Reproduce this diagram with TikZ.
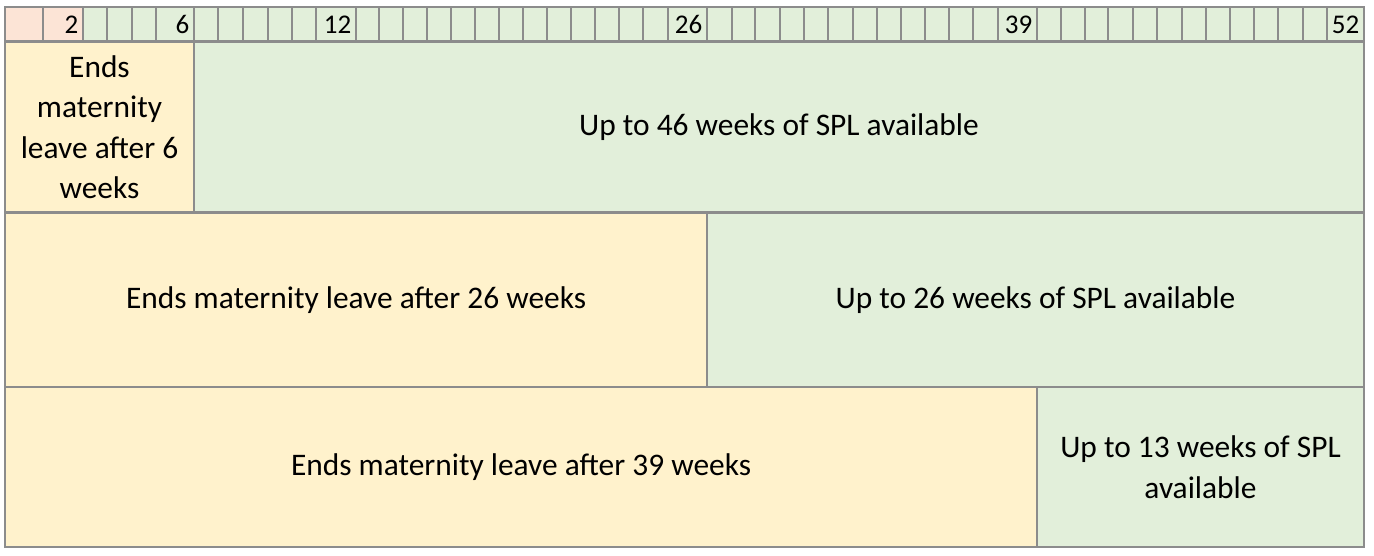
\documentclass[tikz,border=0pt]{standalone}
\usepackage{fontspec}
\setmainfont{Carlito}
\definecolor{gridc}{HTML}{8C8C8C}
\definecolor{pinkc}{HTML}{FCE4D6}
\definecolor{greenc}{HTML}{E2EFDA}
\definecolor{yellowc}{HTML}{FFF2CC}
\tikzset{
  wk/.style={draw=gridc, line width=2.2pt, fill=greenc},
  wkp/.style={wk, fill=pinkc},
  wknum/.style={anchor=east, inner sep=0pt, font=\fontsize{27}{30}\selectfont},
  bigcell/.style={draw=gridc, line width=2.2pt, inner sep=0pt, align=center,
    font=\fontsize{31.4}{40.5}\selectfont},
  mat/.style={bigcell, fill=yellowc},
  spl/.style={bigcell, fill=greenc}
}
\begin{document}
\begin{tikzpicture}[x=1pt,y=-1pt]
\useasboundingbox (0,0) rectangle (1374,555);
% week boundaries
\def\bounds{5,43,83,107,132,156,194,218,243,268,292,316,356,379,403,427,451,475,499,523,547,571,595,619,643,668,707,732,755,780,804,828,853,877,901,925,949,973,998,1037,1061,1085,1108,1133,1157,1182,1206,1230,1254,1278,1303,1327,1364}
\foreach \x [count=\i from 0] in \bounds {\expandafter\xdef\csname wb\i\endcsname{\x}}
\foreach \i in {1,...,52} {
  \pgfmathtruncatemacro{\j}{\i-1}
  \ifnum\i<3
    \path[wkp] (\csname wb\j\endcsname,7) rectangle (\csname wb\i\endcsname,41.5);
  \else
    \path[wk] (\csname wb\j\endcsname,7) rectangle (\csname wb\i\endcsname,41.5);
  \fi
  \coordinate (w\i) at (\csname wb\i\endcsname-4.5,24.5);
}
\foreach \n in {2,6,12,26,39,52} {\node[wknum] (lab\n) at (w\n) {\n};}
% row 1
\node[mat, minimum width=189pt, minimum height=171pt] (m6) at (99.5,127) {Ends\\maternity\\leave after 6\\weeks};
\node[spl, minimum width=1170pt, minimum height=171pt] (s46) at (779,127) {Up to 46 weeks of SPL available};
% row 2
\node[mat, minimum width=702pt, minimum height=174.5pt] (m26) at (356,299.75) {Ends maternity leave after 26 weeks};
\node[spl, minimum width=657pt, minimum height=174.5pt] (s26) at (1035.5,299.75) {Up to 26 weeks of SPL available};
% row 3
\node[mat, minimum width=1032pt, minimum height=160pt] (m39) at (521,467) {Ends maternity leave after 39 weeks};
\node[spl, minimum width=327pt, minimum height=160pt] (s13) at (1200.5,467) {Up to 13 weeks of SPL\\available};
\end{tikzpicture}
\end{document}
